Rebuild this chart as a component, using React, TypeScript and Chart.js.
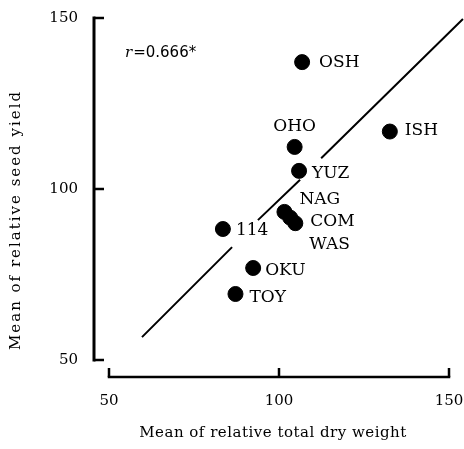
import React, { useEffect, useRef } from 'react';
import { Chart, registerables } from 'chart.js';

Chart.register(...registerables);

// ---- data ----
const cultivars = ['OSH', 'OHO', 'ISH', 'YUZ', 'NAG', 'COM', 'WAS', '114', 'OKU', 'TOY'];
const dryWeight = [106.8, 104.6, 132.6, 105.9, 101.6, 103.3, 104.8, 83.5, 92.4, 87.2];
const seedYield = [137.1, 112.3, 116.8, 105.3, 93.3, 91.6, 90.0, 88.3, 76.9, 69.3];
const xTickValues = [50, 100, 150];
const yTickValues = [50, 100, 150];
// regression line segments (null = break around labels)
const regX = [59.7, 86.2, 90.0, 93.8, 106.2, 109.0, 112.4, 154.1];
const regY = [56.7, 83.0, null, 90.9, 102.7, null, 109.0, 149.7];
const correlationText = '=0.666*';
const xTitle = 'Mean of relative total dry weight';
const yTitle = 'Mean of relative seed yield';

const SERIF = '"DejaVu Serif", "Liberation Serif", serif';

// label placement relative to each point: [dx, dy, align]
const labelPlacement: Record<string, [number, number, CanvasTextAlign]> = {
  OSH: [17, 0, 'left'],
  OHO: [0, -20, 'center'],
  ISH: [15, -1, 'left'],
  YUZ: [13, 3, 'left'],
  NAG: [15, -12, 'left'],
  COM: [20, 4, 'left'],
  WAS: [14, 21, 'left'],
  '114': [13, 2, 'left'],
  OKU: [12, 3, 'left'],
  TOY: [14, 4, 'left'],
};

const decorPlugin = {
  id: 'decor',
  afterDraw(chart: any) {
    const ctx: CanvasRenderingContext2D = chart.ctx;
    const xs = chart.scales.x;
    const ys = chart.scales.y;
    ctx.save();
    ctx.strokeStyle = '#000';
    ctx.fillStyle = '#000';

    // y axis (detached)
    const ax = xs.getPixelForValue(50) - 15;
    const yTop = ys.getPixelForValue(150);
    const yBot = ys.getPixelForValue(50);
    ctx.lineWidth = 3;
    ctx.lineCap = 'butt';
    ctx.beginPath();
    ctx.moveTo(ax, yTop - 1.5);
    ctx.lineTo(ax, yBot + 1.5);
    ctx.stroke();
    ctx.lineWidth = 2.5;
    yTickValues.forEach((v) => {
      const py = ys.getPixelForValue(v);
      ctx.beginPath();
      ctx.moveTo(ax, py);
      ctx.lineTo(ax + 10, py);
      ctx.stroke();
    });

    // x axis (detached)
    const ay = ys.getPixelForValue(50) + 17;
    const xL = xs.getPixelForValue(50);
    const xR = xs.getPixelForValue(150);
    ctx.lineWidth = 2.5;
    ctx.beginPath();
    ctx.moveTo(xL - 1.25, ay);
    ctx.lineTo(xR + 1.25, ay);
    ctx.stroke();
    xTickValues.forEach((v) => {
      const px = xs.getPixelForValue(v);
      ctx.beginPath();
      ctx.moveTo(px, ay);
      ctx.lineTo(px, ay - 9);
      ctx.stroke();
    });

    // point labels
    ctx.font = `17px ${SERIF}`;
    ctx.textBaseline = 'middle';
    cultivars.forEach((name, i) => {
      const px = xs.getPixelForValue(dryWeight[i]);
      const py = ys.getPixelForValue(seedYield[i]);
      const [dx, dy, align] = labelPlacement[name];
      ctx.textAlign = align;
      ctx.fillText(name, px + dx, py + dy);
    });

    // correlation annotation
    ctx.textAlign = 'left';
    ctx.font = `italic 15px ${SERIF}`;
    const rx = 125;
    const ry = 53;
    ctx.fillText('r', rx, ry);
    const rw = ctx.measureText('r').width;
    ctx.font = `15px "DejaVu Sans", sans-serif`;
    ctx.fillText(correlationText, rx + rw + 1, ry);

    // axis titles
    ctx.font = `15px ${SERIF}`;
    (ctx as any).letterSpacing = '0.5px';
    ctx.textAlign = 'center';
    ctx.textBaseline = 'alphabetic';
    ctx.fillText(xTitle, (xL + xR) / 2 - 6, 437);

    ctx.translate(20, 220);
    ctx.rotate(-Math.PI / 2);
    (ctx as any).letterSpacing = '2px';
    ctx.fillText(yTitle, 0, 0);
    ctx.restore();
  },
};

export default function App() {
  const canvasRef = useRef<HTMLCanvasElement | null>(null);

  useEffect(() => {
    if (!canvasRef.current) return;
    const chart = new Chart(canvasRef.current, {
      type: 'scatter',
      data: {
        datasets: [
          {
            type: 'line',
            label: 'regression',
            data: regX.map((x, i) => ({ x, y: regY[i] as any })),
            borderColor: '#000',
            borderWidth: 2,
            pointRadius: 0,
            spanGaps: false,
            clip: false as any,
            fill: false,
            tension: 0,
          } as any,
          {
            type: 'scatter',
            label: 'cultivars',
            data: dryWeight.map((x, i) => ({ x, y: seedYield[i] })),
            backgroundColor: '#000',
            borderColor: '#000',
            pointRadius: 7.5,
            pointHoverRadius: 7.5,
          },
        ],
      },
      options: {
        animation: false,
        responsive: true,
        maintainAspectRatio: false,
        events: [],
        layout: { autoPadding: false, padding: { top: 18, right: 15, left: 0, bottom: 0 } },
        plugins: {
          legend: { display: false },
          tooltip: { enabled: false },
        },
        scales: {
          x: {
            type: 'linear',
            min: 50,
            max: 150,
            afterBuildTicks: (scale: any) => {
              scale.ticks = xTickValues.map((v) => ({ value: v }));
            },
            afterFit: (scale: any) => {
              scale.height = 89;
              scale.paddingLeft = 14;
              scale.paddingRight = 14;
            },
            grid: { display: false, drawTicks: false },
            border: { display: false },
            ticks: {
              padding: 32,
              color: '#000',
              font: { family: SERIF, size: 15 },
            },
          },
          y: {
            type: 'linear',
            min: 50,
            max: 150,
            afterBuildTicks: (scale: any) => {
              scale.ticks = yTickValues.map((v) => ({ value: v }));
            },
            afterFit: (scale: any) => {
              scale.width = 109;
              scale.paddingTop = 10;
              scale.paddingBottom = 10;
            },
            grid: { display: false, drawTicks: false },
            border: { display: false },
            ticks: {
              padding: 31,
              color: '#000',
              font: { family: SERIF, size: 15 },
            },
          },
        },
      },
      plugins: [decorPlugin],
    });
    return () => chart.destroy();
  }, []);

  return (
    <div
      style={{
        position: 'fixed',
        left: 0,
        top: 0,
        width: 464,
        height: 449,
        background: '#fff',
      }}
    >
      <canvas ref={canvasRef} />
    </div>
  );
}
